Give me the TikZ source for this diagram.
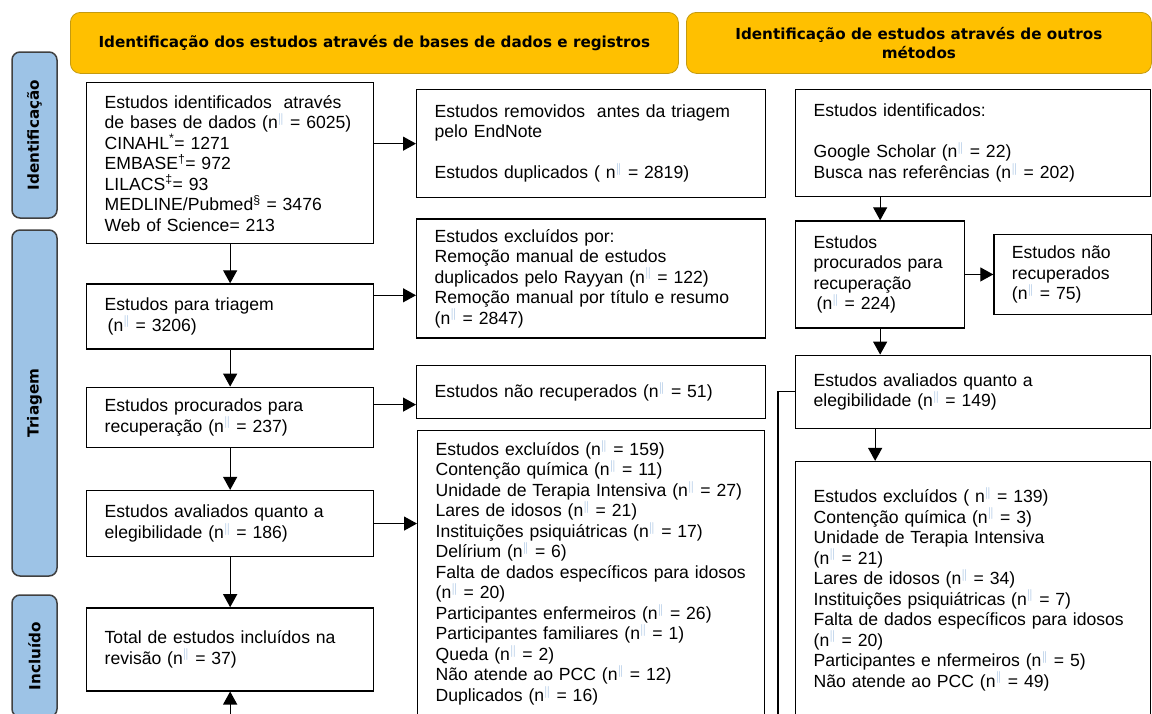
\documentclass[tikz,border=0pt]{standalone}
\usepackage{fontspec}
\setmainfont{Liberation Sans}
\newfontfamily\headfont{DejaVu Sans}
\usepackage{xcolor}
\usetikzlibrary{positioning, arrows.meta}

\definecolor{headfill}{HTML}{FFC000}
\definecolor{headline}{HTML}{C49A10}
\definecolor{sidefill}{HTML}{9DC3E6}
\definecolor{barcol}{HTML}{8AB0DA}

% n with the footnote bars
\newcommand{\nsym}{n\textsuperscript{\textcolor{barcol}{$\|$}}}

\tikzset{
  box/.style={draw, line width=1.3pt, align=left, inner xsep=18pt, inner ysep=0pt,
    font=\fontsize{17.6}{20.5}\selectfont},
  header/.style={draw=headline, line width=0.8pt, fill=headfill, rounded corners=10pt,
    align=center, minimum height=61pt, font=\headfont\bfseries\fontsize{15.2}{19}\selectfont},
  phase/.style={draw=black!75, line width=1.5pt, fill=sidefill, rounded corners=8pt,
    rotate=90, minimum height=45pt, font=\headfont\bfseries\fontsize{15.2}{19}\selectfont},
  arrow/.style={-{Triangle[width=14pt,length=13pt]}, line width=1.2pt},
}

\begin{document}
\begin{tikzpicture}[x=1pt, y=-1pt]
  \useasboundingbox (0,0) rectangle (1152,713);
  \clip (0,0) rectangle (1152,713);

  % headers
  \node[header, minimum width=608pt, anchor=north west] (hdrA) at (70,12)
    {Identificação dos estudos através de bases de dados e registros};
  \node[header, minimum width=465pt, anchor=north west] (hdrB) at (686,12)
    {Identificação de estudos através de outros\\ métodos};

  % phases
  \node[phase, minimum width=166pt] (sideId) at (34.5,135) {Identificação};
  \node[phase, minimum width=346pt] (sideTri) at (34.5,403) {Triagem};
  \node[phase, minimum width=122pt] (sideInc) at (34.5,656) {Incluído};

  % databases and registers
  \node[box, text width=251pt, minimum height=161pt, anchor=north west] (id) at (86,82)
    {Estudos identificados \ através\\ de bases de dados (\nsym{} = 6025)\\
     CINAHL\textsuperscript{*}= 1271\\ EMBASE\textsuperscript{\textdagger}= 972\\
     LILACS\textsuperscript{\textdaggerdbl}= 93\\ MEDLINE/Pubmed\textsuperscript{\textsection} = 3476\\
     Web of Science= 213};
  \node[box, text width=251pt, minimum height=65pt, below=39pt of id] (triagem)
    {Estudos para triagem\\ \hspace{3pt}(\nsym{} = 3206)};
  \node[box, text width=251pt, minimum height=60pt, below=37pt of triagem] (proc)
    {Estudos procurados para\\ recuperação (\nsym{} = 237)};
  \node[box, text width=251pt, minimum height=66pt, below=42pt of proc] (elig)
    {Estudos avaliados quanto a\\ elegibilidade (\nsym{} = 186)};
  \node[box, text width=251pt, minimum height=83pt, below=50pt of elig] (total)
    {Total de estudos incluídos na\\ revisão (\nsym{} = 37)};

  \node[box, text width=313pt, minimum height=108pt, anchor=north west] (removed) at (416,89)
    {Estudos removidos \ antes da triagem\\ pelo EndNote\\[20.5pt] Estudos duplicados ( \nsym{} = 2819)};
  \node[box, text width=313pt, minimum height=119pt, below=20pt of removed] (excl1)
    {Estudos excluídos por:\\ Remoção manual de estudos\\ duplicados pelo Rayyan (\nsym{} = 122)\\
     Remoção manual por título e resumo\\ (\nsym{} = 2847)};
  \node[box, text width=313pt, minimum height=53pt, below=26pt of excl1] (notrec1)
    {Estudos não recuperados (\nsym{} = 51)};
  \node[box, text width=311pt, minimum height=284pt, below=11pt of notrec1] (excl2)
    {Estudos excluídos (\nsym{} = 159)\\ Contenção química (\nsym{} = 11)\\
     Unidade de Terapia Intensiva (\nsym{} = 27)\\ Lares de idosos (\nsym{} = 21)\\
     Instituições psiquiátricas (\nsym{} = 17)\\ Delírium (\nsym{} = 6)\\
     Falta de dados específicos para idosos\\ (\nsym{} = 20)\\
     Participantes enfermeiros (\nsym{} = 26)\\ Participantes familiares (\nsym{} = 1)\\
     Queda (\nsym{} = 2)\\ Não atende ao PCC (\nsym{} = 12)\\ Duplicados (\nsym{} = 16)};

  % other methods
  \node[box, text width=319pt, minimum height=107pt, anchor=north west] (idR) at (795,89)
    {Estudos identificados:\\[20.5pt] Google Scholar (\nsym{} = 22)\\ Busca nas referências (\nsym{} = 202)};
  \node[box, text width=133pt, minimum height=107pt, below right=23pt and 0pt of idR.south west] (procR)
    {Estudos\\ procurados para\\ recuperação\\ \hspace{3pt}(\nsym{} = 224)};
  \node[box, text width=122pt, minimum height=80pt, right=28pt of procR] (notrecR)
    {Estudos não\\ recuperados\\ (\nsym{} = 75)};
  \node[box, text width=319pt, minimum height=73pt, below right=26pt and 0pt of procR.south west] (eligR)
    {Estudos avaliados quanto a\\ elegibilidade (\nsym{} = 149)};
  \node[box, text width=319pt, minimum height=255pt, below=32pt of eligR] (exclR)
    {Estudos excluídos ( \nsym{} = 139)\\ Contenção química (\nsym{} = 3)\\
     Unidade de Terapia Intensiva\\ (\nsym{} = 21)\\ Lares de idosos (\nsym{} = 34)\\
     Instituições psiquiátricas (\nsym{} = 7)\\ Falta de dados específicos para idosos\\
     (\nsym{} = 20)\\ Participantes e nfermeiros (\nsym{} = 5)\\ Não atende ao PCC (\nsym{} = 49)};

  % connectors
  \draw[arrow] (id) -- (triagem);
  \draw[arrow] (triagem) -- (proc);
  \draw[arrow] (proc) -- (elig);
  \draw[arrow] (elig) -- (total);
  \draw[arrow] (id.east |- removed.west) -- (removed.west);
  \draw[arrow] ([yshift=-12pt]triagem.north east) -- ([yshift=-12pt]triagem.north east -| excl1.west);
  \draw[arrow] ([yshift=-18pt]proc.north east) -- ([yshift=-18pt]proc.north east -| notrec1.west);
  \draw[arrow] (elig.east) -- (elig.east -| excl2.west);

  \draw[arrow] (idR.south -| procR.north) -- (procR.north);
  \draw[arrow] (procR.east) -- (notrecR.west);
  \draw[arrow] (procR.south) -- (procR.south |- eligR.north);
  \draw[arrow] ([xshift=-5pt]procR.south |- eligR.south) -- ([xshift=-5pt]procR.south |- exclR.north);
  \draw[arrow] (eligR.west) -- ++(-17pt,0) |- ([yshift=-60pt]total.south) -- (total.south);
\end{tikzpicture}
\end{document}
